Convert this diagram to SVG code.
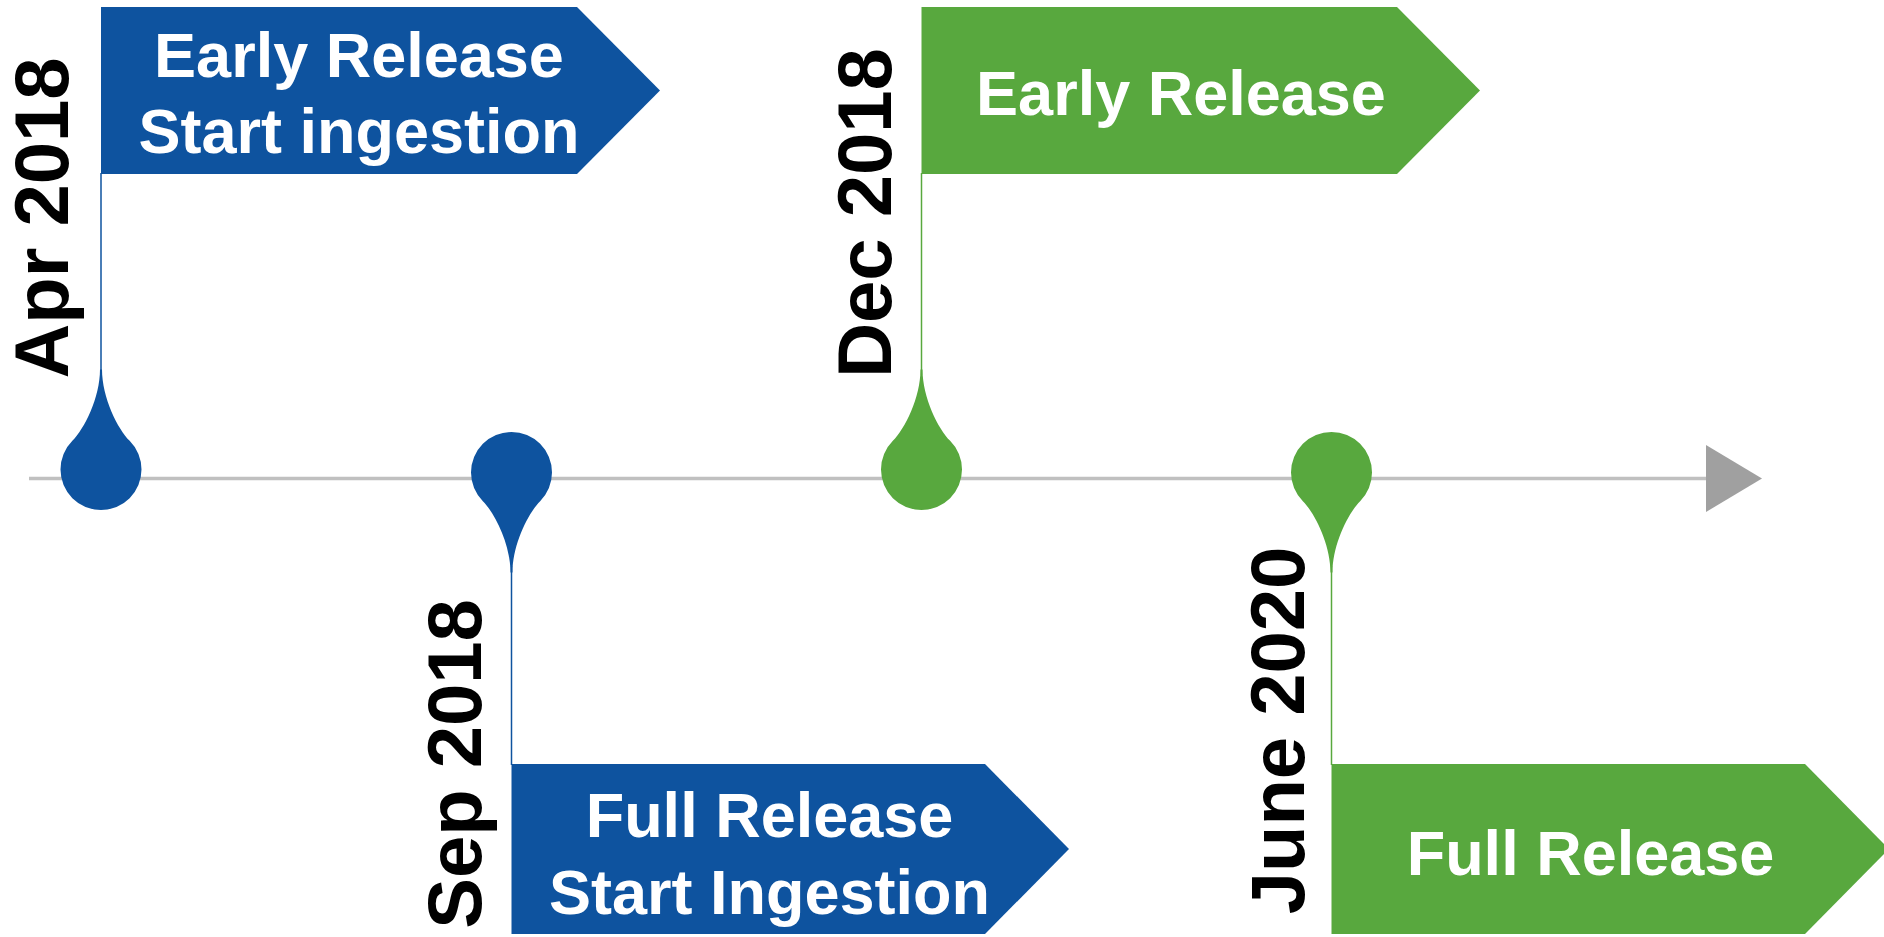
<svg xmlns="http://www.w3.org/2000/svg" width="1884" height="937" viewBox="0 0 1884 937">
<style>
.blue{fill:#0E539F}
.green{fill:#58A83E}
.poleb{stroke:#0E539F;stroke-width:1.5;fill:none}
.poleg{stroke:#58A83E;stroke-width:1.5;fill:none}
.lbl{font-family:"Liberation Sans",Arial,Helvetica,sans-serif;font-weight:bold;font-size:63px;fill:#FFFFFF;text-anchor:middle}
.date{font-family:"Liberation Sans",Arial,Helvetica,sans-serif;font-weight:bold;font-size:76px;fill:#000000;text-anchor:middle}
</style>
<rect width="1884" height="937" fill="#FFFFFF"/>
<g id="connectors">
<line x1="29" y1="478.5" x2="1707" y2="478.5" stroke="#C0C0C0" stroke-width="3.5"/>
<polygon points="1706,445 1762,478.5 1706,512" fill="#A0A0A0"/>
</g>
<g id="apr2018">
<path class="blue" d="M101,7 H577 L660,90.5 L577,174 H101 Z"/>
<line class="poleb" x1="101" y1="173" x2="101" y2="375"/>
<path class="blue" d="M100,369.5 C100,397.5 84.36,428.86 72.36,440.86 A40.5,40.5 0 1 0 129.64,440.86 C117.64,428.86 102,397.5 102,369.5 Z"/>
<text class="lbl" x="359" y="77">Early Release</text>
<text class="lbl" x="359" y="153">Start ingestion</text>
<text class="date" transform="translate(68,218) rotate(-90)">Apr 2018</text>
</g>
<g id="sep2018">
<path class="blue" d="M511.5,764 H985 L1069,849 L985,934 H511.5 Z"/>
<line class="poleb" x1="511.5" y1="566" x2="511.5" y2="765"/>
<path class="blue" d="M510.5,572.5 C510.5,544.5 494.86,513.14 482.86,501.14 A40.5,40.5 0 1 1 540.14,501.14 C528.14,513.14 512.5,544.5 512.5,572.5 Z"/>
<text class="lbl" x="769.5" y="836.5">Full Release</text>
<text class="lbl" x="769.5" y="913.5">Start Ingestion</text>
<text class="date" transform="translate(480.5,764) rotate(-90)">Sep 2018</text>
</g>
<g id="dec2018">
<path class="green" d="M921.5,7 H1397 L1480,90.5 L1397,174 H921.5 Z"/>
<line class="poleg" x1="921.5" y1="173" x2="921.5" y2="375"/>
<path class="green" d="M920.5,369.5 C920.5,397.5 904.86,428.86 892.86,440.86 A40.5,40.5 0 1 0 950.14,440.86 C938.14,428.86 922.5,397.5 922.5,369.5 Z"/>
<text class="lbl" x="1181" y="115">Early Release</text>
<text class="date" transform="translate(891,213) rotate(-90)">Dec 2018</text>
</g>
<g id="june2020">
<path class="green" d="M1331.5,764 H1805 L1889,849 L1805,934 H1331.5 Z"/>
<line class="poleg" x1="1331.5" y1="566" x2="1331.5" y2="765"/>
<path class="green" d="M1330.5,572.5 C1330.5,544.5 1314.86,513.14 1302.86,501.14 A40.5,40.5 0 1 1 1360.14,501.14 C1348.14,513.14 1332.5,544.5 1332.5,572.5 Z"/>
<text class="lbl" x="1590.5" y="875">Full Release</text>
<text class="date" transform="translate(1303.5,730.5) rotate(-90)">June 2020</text>
</g>
</svg>
